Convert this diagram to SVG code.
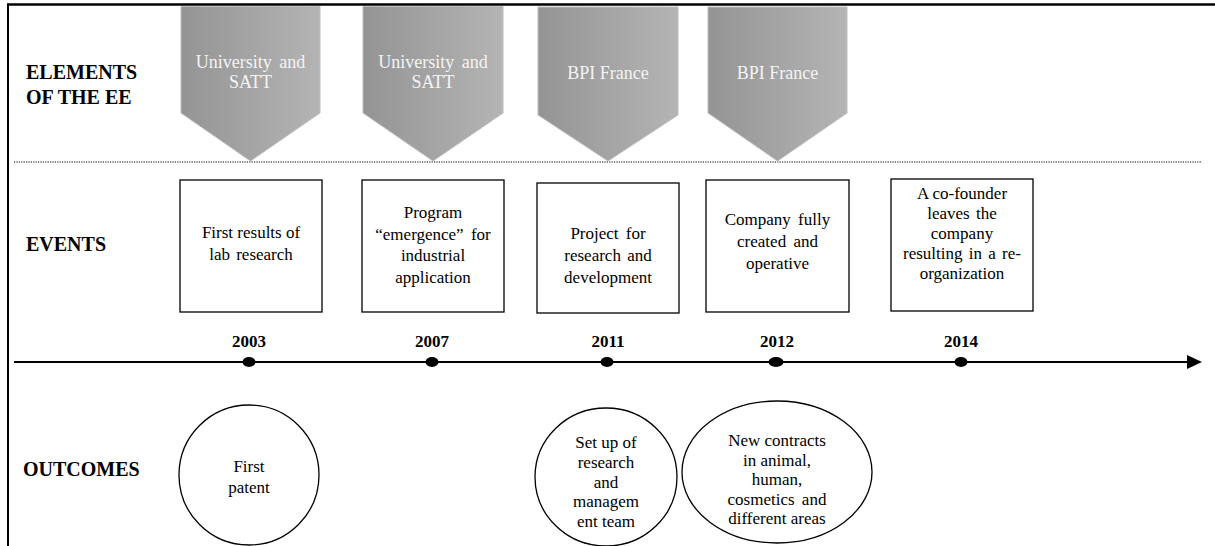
<svg xmlns="http://www.w3.org/2000/svg" width="1215" height="546" viewBox="0 0 1215 546">
  <defs>
    <linearGradient id="chevFill" x1="0" y1="0" x2="1" y2="0">
      <stop offset="0" stop-color="#949494"/>
      <stop offset="1" stop-color="#b4b4b4"/>
    </linearGradient>
    <marker id="arrowHead" viewBox="0 0 15 14" refX="1" refY="7" markerWidth="15" markerHeight="14" markerUnits="userSpaceOnUse" orient="auto">
      <path d="M0,0 L15,7 L0,14 Z" fill="#000"/>
    </marker>
    <style>
      text { font-family: 'Liberation Serif', 'Times New Roman', Times, serif; }
      .frame { stroke: #000; fill: none; }
      .head { font-weight: bold; font-size: 20px; fill: #000; }
      .year { font-weight: bold; font-size: 17px; fill: #000; text-anchor: middle; }
      .chev { fill: url(#chevFill); stroke: #bdbdbd; stroke-width: 1; }
      .chevText { font-size: 18px; fill: #f4f4f4; text-anchor: middle; }
      .box { fill: #fff; stroke: #000; stroke-width: 1.3; }
      .txt { font-size: 17px; fill: #000; text-anchor: middle; }
      .dot { fill: #000; }
    </style>
  </defs>

  <rect width="1215" height="546" fill="#fff"/>

  <!-- page frame and row separators -->
  <g id="frame">
    <line class="frame" x1="7" y1="4.5" x2="1215" y2="4.5" stroke-width="2.5"/>
    <line class="frame" x1="8" y1="4" x2="8" y2="546" stroke-width="2"/>
    <line class="frame" x1="14" y1="162" x2="1201" y2="162" stroke-width="1.2" stroke-dasharray="1.2,1.2"/>
  </g>

  <!-- row headings -->
  <g id="headings">
    <text class="head" x="26" y="79">ELEMENTS</text>
    <text class="head" x="26" y="104">OF THE EE</text>
    <text class="head" x="26" y="251">EVENTS</text>
    <text class="head" x="23" y="476">OUTCOMES</text>
  </g>

  <!-- timeline axis -->
  <g id="connectors">
    <line x1="14" y1="362" x2="1188" y2="362" stroke="#000" stroke-width="2" marker-end="url(#arrowHead)"/>
  </g>

  <!-- ecosystem elements (chevrons) -->
  <g id="chev-2003">
    <polygon class="chev" points="181,6.5 320,6.5 320,113 250.5,161 181,113"/>
    <text class="chevText" x="250.5" y="68" word-spacing="3">University and</text>
    <text class="chevText" x="250.5" y="88">SATT</text>
  </g>
  <g id="chev-2007">
    <polygon class="chev" points="363,6.5 503,6.5 503,113 433,161 363,113"/>
    <text class="chevText" x="433" y="68" word-spacing="3">University and</text>
    <text class="chevText" x="433" y="88">SATT</text>
  </g>
  <g id="chev-2011">
    <polygon class="chev" points="538,7 678,7 678,115 608,161 538,115"/>
    <text class="chevText" x="608" y="79">BPI France</text>
  </g>
  <g id="chev-2012">
    <polygon class="chev" points="708,7 847,7 847,113 777.5,161 708,113"/>
    <text class="chevText" x="777.5" y="79">BPI France</text>
  </g>

  <!-- events -->
  <g id="event-2003">
    <rect class="box" x="180" y="180" width="142" height="132"/>
    <text class="txt" x="251" y="238">First results of</text>
    <text class="txt" x="251" y="260" word-spacing="2">lab research</text>
  </g>
  <g id="event-2007">
    <rect class="box" x="362" y="180" width="142" height="132"/>
    <text class="txt" x="433" y="218">Program</text>
    <text class="txt" x="433" y="240" word-spacing="3">“emergence” for</text>
    <text class="txt" x="433" y="261">industrial</text>
    <text class="txt" x="433" y="283">application</text>
  </g>
  <g id="event-2011">
    <rect class="box" x="537" y="183" width="142" height="130"/>
    <text class="txt" x="608" y="239" word-spacing="3">Project for</text>
    <text class="txt" x="608" y="261" word-spacing="2">research and</text>
    <text class="txt" x="608" y="283">development</text>
  </g>
  <g id="event-2012">
    <rect class="box" x="706" y="180" width="143" height="132"/>
    <text class="txt" x="777.5" y="225" word-spacing="3">Company fully</text>
    <text class="txt" x="777.5" y="247" word-spacing="3">created and</text>
    <text class="txt" x="777.5" y="269">operative</text>
  </g>
  <g id="event-2014">
    <rect class="box" x="891" y="179" width="142" height="132"/>
    <text class="txt" x="962" y="199">A co-founder</text>
    <text class="txt" x="962" y="219" word-spacing="2">leaves the</text>
    <text class="txt" x="962" y="239">company</text>
    <text class="txt" x="962" y="259" word-spacing="2">resulting in a re-</text>
    <text class="txt" x="962" y="279">organization</text>
  </g>

  <!-- years on the axis -->
  <g id="year-2003">
    <text class="year" x="249" y="347">2003</text>
    <ellipse class="dot" cx="249" cy="362" rx="6.5" ry="5"/>
  </g>
  <g id="year-2007">
    <text class="year" x="432" y="347">2007</text>
    <ellipse class="dot" cx="432" cy="362" rx="6.5" ry="5"/>
  </g>
  <g id="year-2011">
    <text class="year" x="608" y="347">2011</text>
    <ellipse class="dot" cx="607" cy="362" rx="6.5" ry="5"/>
  </g>
  <g id="year-2012">
    <text class="year" x="777" y="347">2012</text>
    <ellipse class="dot" cx="776" cy="362" rx="7.5" ry="5"/>
  </g>
  <g id="year-2014">
    <text class="year" x="961" y="347">2014</text>
    <ellipse class="dot" cx="961" cy="362" rx="6.5" ry="5"/>
  </g>

  <!-- outcomes -->
  <g id="outcome-2003">
    <ellipse class="box" cx="249" cy="475" rx="70" ry="70"/>
    <text class="txt" x="249" y="472">First</text>
    <text class="txt" x="249" y="493">patent</text>
  </g>
  <g id="outcome-2011">
    <ellipse class="box" cx="606" cy="477" rx="71" ry="69"/>
    <text class="txt" x="606" y="448">Set up of</text>
    <text class="txt" x="606" y="468">research</text>
    <text class="txt" x="606" y="488">and</text>
    <text class="txt" x="606" y="507">managem</text>
    <text class="txt" x="606" y="527">ent team</text>
  </g>
  <g id="outcome-2012">
    <ellipse class="box" cx="777" cy="472" rx="95" ry="71"/>
    <text class="txt" x="777" y="446">New contracts</text>
    <text class="txt" x="777" y="466">in animal,</text>
    <text class="txt" x="777" y="485">human,</text>
    <text class="txt" x="777" y="505" word-spacing="3">cosmetics and</text>
    <text class="txt" x="777" y="524">different areas</text>
  </g>
</svg>
